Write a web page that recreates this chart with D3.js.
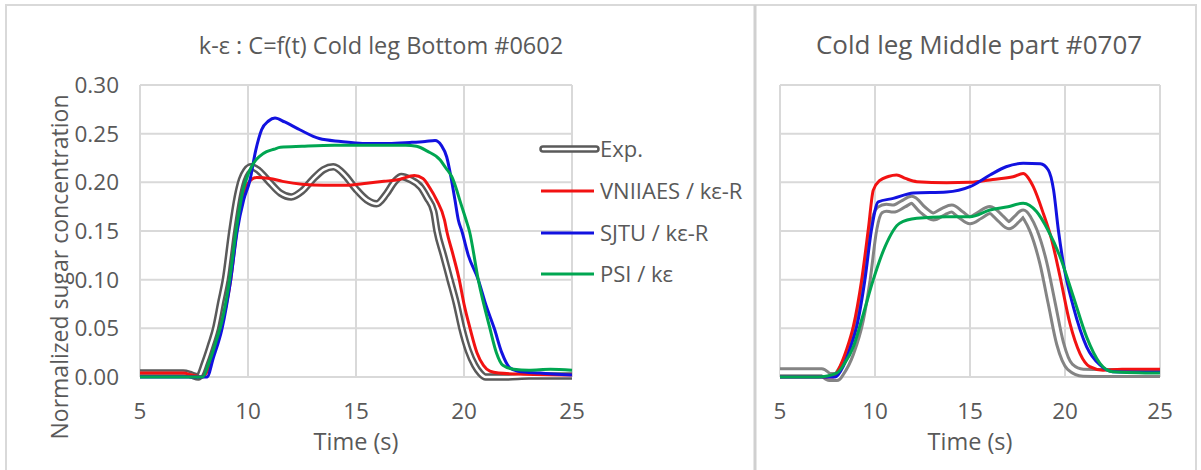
<!DOCTYPE html>
<html>
<head>
<meta charset="utf-8">
<script src="https://cdn.jsdelivr.net/npm/d3@7"></script>
<style>
  body { margin: 0; background: #fff; }
  text { font-family: "Open Sans", sans-serif; fill: #595959; }
</style>
</head>
<body>
<div id="chart-area"></div>
<script>

// series values: [time (s), normalized sugar concentration]
const bottomExp = [[5,0.004],[6,0.004],[7,0.004],[7.4,0.002],[7.7,0],[8.0,0.015],[8.3,0.035],[8.5,0.05],[8.75,0.078],[8.95,0.10],[9.25,0.15],[9.5,0.185],[9.7,0.203],[9.9,0.212],[10.15,0.216],[10.5,0.212],[11,0.200],[11.5,0.189],[12,0.185],[12.5,0.191],[13,0.203],[13.5,0.213],[13.95,0.216],[14.5,0.207],[15,0.193],[15.5,0.182],[15.95,0.178],[16.4,0.188],[16.8,0.201],[17.1,0.206],[17.5,0.203],[18,0.195],[18.3,0.184],[18.6,0.170],[18.75,0.15],[19.05,0.125],[19.35,0.10],[19.65,0.075],[19.9,0.05],[20.2,0.027],[20.5,0.012],[20.75,0.004],[21,0],[22,0],[23,0.001],[25,0.001]];
const bottomVniiaes = [[5,0.004],[7,0.004],[7.4,0.002],[7.9,0],[8.2,0.01],[8.5,0.03],[8.8,0.055],[9.2,0.10],[9.48,0.15],[9.75,0.185],[10,0.199],[10.4,0.205],[11,0.204],[11.6,0.201],[12.5,0.198],[13.5,0.197],[14.5,0.197],[15.5,0.199],[16.3,0.201],[17,0.203],[17.7,0.207],[18.1,0.204],[18.4,0.195],[18.73,0.182],[19.1,0.161],[19.2,0.15],[19.5,0.125],[19.78,0.10],[20.0,0.075],[20.28,0.05],[20.6,0.025],[20.9,0.012],[21.2,0.006],[21.6,0.004],[22.5,0.003],[25,0.002]];
const bottomSjtu = [[5,0],[7,0],[8.1,0],[8.4,0.02],[8.8,0.05],[9.2,0.10],[9.5,0.15],[9.8,0.182],[10.09,0.202],[10.35,0.232],[10.63,0.254],[10.95,0.263],[11.25,0.266],[11.7,0.262],[12.4,0.254],[13.3,0.245],[14.3,0.242],[15.3,0.240],[16.5,0.240],[17.5,0.241],[18.2,0.242],[18.66,0.243],[18.95,0.238],[19.2,0.226],[19.4,0.205],[19.58,0.182],[19.74,0.161],[19.9,0.15],[20.2,0.125],[20.66,0.10],[21.0,0.075],[21.4,0.05],[21.75,0.025],[22.1,0.01],[22.5,0.006],[23.5,0.004],[25,0.002]];
const bottomPsi = [[5,0],[7,0],[7.9,0],[8.2,0.015],[8.5,0.035],[8.8,0.058],[9.15,0.10],[9.45,0.15],[9.75,0.19],[10.0,0.208],[10.25,0.2195],[10.55,0.227],[10.86,0.2315],[11.2,0.234],[11.5,0.236],[12.5,0.237],[14,0.238],[15.5,0.238],[17.3,0.238],[17.8,0.237],[18.3,0.232],[18.9,0.223],[19.15,0.215],[19.43,0.206],[19.62,0.195],[19.8,0.182],[20.1,0.161],[20.25,0.15],[20.66,0.10],[21.2,0.05],[21.5,0.025],[21.8,0.012],[22.3,0.008],[23,0.007],[24,0.008],[25,0.007]];

const middleExp = [[5,0.005],[6,0.005],[7.2,0.005],[7.6,0],[8.0,0],[8.16,0.004],[8.7,0.025],[9.2,0.0585],[9.56,0.10],[9.91,0.152],[10.26,0.1716],[10.6,0.174],[10.96,0.173],[11.5,0.178],[11.93,0.182],[12.5,0.172],[13.07,0.165],[13.6,0.17],[14.04,0.173],[14.5,0.167],[15,0.161],[15.5,0.166],[16.05,0.1716],[16.6,0.163],[17.05,0.156],[17.5,0.163],[17.8,0.168],[18.05,0.162],[18.33,0.151],[18.86,0.117],[19.3,0.0757],[19.74,0.0346],[20.26,0.0106],[20.96,0.0044],[22,0.004],[25,0.004]];
const middleVniiaes = [[5,0],[7,0],[7.8,0],[8.16,0.011],[8.5,0.028],[8.86,0.052],[9.3,0.10],[9.65,0.152],[9.91,0.192],[10.26,0.202],[10.7,0.206],[11.14,0.2075],[11.6,0.204],[12.2,0.2007],[13.77,0.1997],[15,0.200],[16.2,0.203],[17.27,0.2058],[17.8,0.209],[18.05,0.205],[18.33,0.1955],[18.86,0.168],[19.3,0.141],[19.74,0.103],[20.26,0.055],[20.79,0.024],[21.3,0.0106],[22,0.007],[23,0.008],[25,0.008]];
const middleSjtu = [[5,0],[7,0],[7.9,0],[8.33,0.011],[8.7,0.03],[9.04,0.052],[9.47,0.10],[9.82,0.152],[10.17,0.18],[10.96,0.1835],[12.02,0.189],[13.77,0.19],[15.0,0.1955],[16.05,0.2075],[16.9,0.216],[17.8,0.2195],[18.7,0.219],[19.12,0.2127],[19.4,0.192],[19.65,0.151],[19.91,0.117],[20.44,0.072],[21.14,0.031],[21.84,0.0123],[22.5,0.0055],[25,0.005]];
const middlePsi = [[5,0],[7,0],[7.98,0.004],[8.4,0.014],[8.86,0.031],[9.39,0.065],[9.91,0.10],[10.53,0.134],[11.3,0.158],[12.2,0.163],[13.77,0.1647],[15,0.1647],[16.05,0.1716],[17.0,0.175],[17.8,0.1785],[18.5,0.17],[19.1,0.151],[19.74,0.1236],[20.44,0.0825],[21.14,0.041],[21.84,0.014],[22.5,0.0055],[25,0.004]];

const timeTicks = [5, 10, 15, 20, 25];
const concTicks = [0, 0.05, 0.10, 0.15, 0.20, 0.25, 0.30];
const seriesNames = ['Exp.', 'VNIIAES / kε-R', 'SJTU / kε-R', 'PSI / kε'];
const seriesColors = ['#5a5a5a', '#f21212', '#1212e0', '#00a651'];
const chartTitles = ['k-ε : C=f(t) Cold leg Bottom #0602', 'Cold leg Middle part #0707'];

const widthSvg = 1201;
const heightSvg = 470;

const svg = d3.select('#chart-area')
  .append('svg')
    .attr('width', widthSvg)
    .attr('height', heightSvg);

// frames of the two chart areas
svg.append('rect')
  .attr('x', 6).attr('y', 5)
  .attr('width', 1190).attr('height', 480)
  .attr('fill', 'none').attr('stroke', '#d9d9d9').attr('stroke-width', 2);
svg.append('line')
  .attr('x1', 755).attr('x2', 755).attr('y1', 5).attr('y2', 470)
  .attr('stroke', '#d0d0d0').attr('stroke-width', 3);

const panels = [
  { left: 140, right: 572, top: 85, bottom: 377, title: chartTitles[0], titleX: 381, titleSize: 23.5,
    series: [bottomExp, bottomVniiaes, bottomSjtu, bottomPsi], expColor: '#5a5a5a', expOuter: 7.5, expInner: 2.5, yLabels: true },
  { left: 780, right: 1160, top: 85, bottom: 377, title: chartTitles[1], titleX: 979, titleSize: 26,
    series: [middleExp, middleVniiaes, middleSjtu, middlePsi], expColor: '#848484', expOuter: 10, expInner: 4, yLabels: false }
];

panels.forEach(p => {
  const scaleX = d3.scaleLinear().domain([5, 25]).range([p.left, p.right]);
  const scaleY = d3.scaleLinear().domain([0, 0.30]).range([p.bottom, p.top]);

  const g = svg.append('g');

  // gridlines
  g.selectAll('.gy').data(concTicks).enter().append('line')
    .attr('x1', p.left).attr('x2', p.right)
    .attr('y1', d => scaleY(d)).attr('y2', d => scaleY(d))
    .attr('stroke', '#d9d9d9').attr('stroke-width', 2);
  g.selectAll('.gx').data(timeTicks).enter().append('line')
    .attr('y1', p.top).attr('y2', p.bottom)
    .attr('x1', d => scaleX(d)).attr('x2', d => scaleX(d))
    .attr('stroke', '#d9d9d9').attr('stroke-width', 2);

  // tick labels
  g.selectAll('.tx').data(timeTicks).enter().append('text')
    .attr('x', d => scaleX(d)).attr('y', 419)
    .attr('text-anchor', 'middle').style('font-size', '22.5px')
    .text(d => d);
  if (p.yLabels) {
    g.selectAll('.ty').data(concTicks).enter().append('text')
      .attr('x', 119).attr('y', d => scaleY(d) + 8)
      .attr('text-anchor', 'end').style('font-size', '22.5px')
      .text(d3.format('.2f'));
    g.append('text')
      .attr('transform', 'translate(68, 267) rotate(-90)')
      .attr('text-anchor', 'middle').style('font-size', '23px')
      .text('Normalized sugar concentration');
  }

  g.append('text')
    .attr('x', (p.left + p.right) / 2).attr('y', 450)
    .attr('text-anchor', 'middle').style('font-size', '23.5px')
    .text('Time (s)');

  g.append('text')
    .attr('x', p.titleX).attr('y', 54)
    .attr('text-anchor', 'middle').style('font-size', p.titleSize + 'px')
    .text(p.title);

  const line = d3.line()
    .x(d => scaleX(d[0]))
    .y(d => scaleY(d[1]))
    .curve(d3.curveMonotoneX);

  // Exp. as a double (outlined) line
  g.append('path').datum(p.series[0])
    .attr('d', line).attr('fill', 'none')
    .attr('stroke', p.expColor).attr('stroke-width', p.expOuter)
    .attr('stroke-linejoin', 'round');
  g.append('path').datum(p.series[0])
    .attr('d', line).attr('fill', 'none')
    .attr('stroke', '#fff').attr('stroke-width', p.expInner)
    .attr('stroke-linejoin', 'round');

  p.series.slice(1).forEach((s, i) => {
    g.append('path').datum(s)
      .attr('d', line).attr('fill', 'none')
      .attr('stroke', seriesColors[i + 1]).attr('stroke-width', 3)
      .attr('stroke-linejoin', 'round');
  });
});

// legend
const legendY = [149, 191, 233, 274];
const legend = svg.append('g');
seriesNames.forEach((name, i) => {
  if (i === 0) {
    legend.append('line')
      .attr('x1', 543).attr('x2', 596).attr('y1', legendY[i]).attr('y2', legendY[i])
      .attr('stroke', seriesColors[0]).attr('stroke-width', 7.5).attr('stroke-linecap', 'round');
    legend.append('line')
      .attr('x1', 543).attr('x2', 596).attr('y1', legendY[i]).attr('y2', legendY[i])
      .attr('stroke', '#fff').attr('stroke-width', 2.5).attr('stroke-linecap', 'round');
  } else {
    legend.append('line')
      .attr('x1', 541).attr('x2', 594).attr('y1', legendY[i]).attr('y2', legendY[i])
      .attr('stroke', seriesColors[i]).attr('stroke-width', 3);
  }
  legend.append('text')
    .attr('x', 600).attr('y', legendY[i] + 8)
    .style('font-size', '22px')
    .text(name);
});

</script>
</body>
</html>
